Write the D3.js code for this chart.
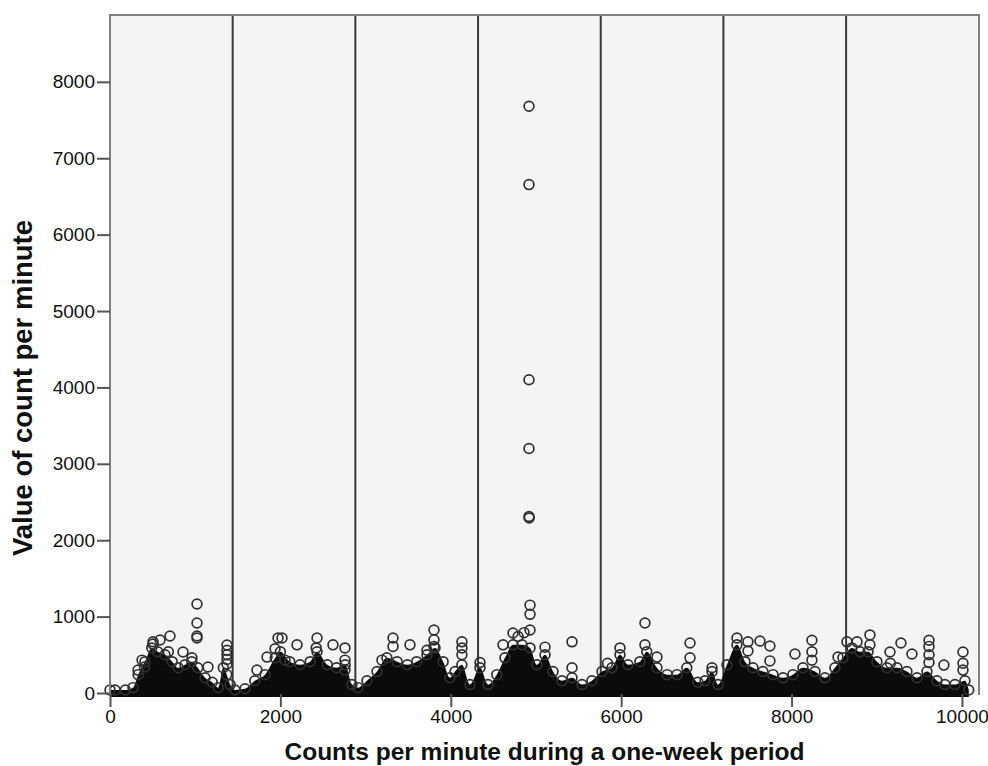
<!DOCTYPE html>
<html>
<head>
<meta charset="utf-8">
<script src="https://cdn.jsdelivr.net/npm/d3@7"></script>
<style>
  html, body { margin: 0; padding: 0; background: #fff; }
  svg { display: block; }
  text { font-family: "Liberation Sans", Arial, Helvetica, sans-serif; fill: #111; }
</style>
</head>
<body>
<svg id="chart" width="988" height="766"></svg>
<script>
// ---- data ----
const xTicks = [0, 2000, 4000, 6000, 8000, 10000];
const yTicks = [0, 1000, 2000, 3000, 4000, 5000, 6000, 7000, 8000];
const dayBoundaries = [1440, 2880, 4320, 5760, 7200, 8640];

// top of the dense (solid black) mass of points: minute, value
const coreMinutes = [0, 60, 180, 270, 330, 410, 490, 560, 645, 730, 800, 880, 960, 1030, 1115, 1200, 1270, 1330, 1370, 1410, 1467, 1585, 1700, 1820, 1940, 2000, 2110, 2230, 2350, 2430, 2550, 2660, 2760, 2840, 2910, 3016, 3134, 3250, 3370, 3490, 3600, 3720, 3815, 3910, 3990, 4050, 4130, 4225, 4343, 4437, 4540, 4636, 4730, 4836, 4930, 5012, 5106, 5200, 5305, 5423, 5540, 5657, 5775, 5892, 5986, 6080, 6220, 6300, 6420, 6540, 6655, 6770, 6900, 6984, 7066, 7136, 7242, 7359, 7453, 7547, 7664, 7782, 7900, 8016, 8134, 8275, 8392, 8509, 8603, 8709, 8803, 8897, 9002, 9120, 9237, 9354, 9472, 9589, 9707, 9800, 9918, 10035, 10080];
const coreValues = [40, 40, 40, 70, 240, 410, 590, 540, 500, 410, 330, 370, 410, 330, 200, 140, 70, 330, 240, 110, 40, 55, 160, 240, 460, 540, 410, 370, 410, 540, 370, 330, 370, 110, 70, 160, 280, 460, 410, 370, 410, 500, 590, 410, 200, 280, 370, 110, 330, 110, 240, 460, 630, 630, 590, 370, 500, 280, 160, 200, 110, 160, 280, 330, 500, 370, 410, 540, 330, 240, 240, 330, 140, 160, 280, 110, 370, 630, 410, 330, 280, 240, 200, 240, 330, 280, 200, 330, 460, 590, 540, 540, 410, 330, 330, 280, 200, 280, 160, 110, 110, 160, 40];

// individual points standing out above the mass: minute
const outlierMinutes = [1021, 1021, 1021, 1021, 704, 587, 505, 505, 857, 1150, 1373, 1373, 1373, 1373, 1373, 962, 376, 329, 405, 685, 1972, 1843, 1725, 1937,
  2019, 2195, 2430, 2420, 2617, 2758, 2758, 2758, 3192, 3322, 3322, 3521, 3720, 3803, 3803, 3803, 2054,
  4930, 4930, 4930, 4730, 4613, 5423, 4131, 4131, 4131, 4343, 5423, 5106, 5986, 5840, 4860, 4790,
  4918, 4918, 4918, 4918, 4918, 4920,
  6279, 6279, 6420, 6808, 6808, 7066, 7359, 7488, 7629, 7746, 8040, 7488, 7746,
  8239, 8239, 8239, 8545, 8650, 8768, 8920, 8920, 9155, 9284, 9413, 9613, 9613, 9613, 9613, 9788, 10012, 10012, 10012, 9160];
// and their values
const outlierValues = [1165, 916, 746, 720, 746, 694, 670, 640, 537, 340, 628, 560, 500, 440, 380, 460, 430, 300, 340, 540, 720, 470, 300, 580,
  720, 630, 720, 590, 630, 590, 430, 300, 430, 720, 610, 630, 560, 825, 695, 610, 430,
  1150, 1030, 825, 785, 630, 670, 670, 590, 500, 400, 330, 600, 590, 390, 790, 740,
  7680, 6655, 4100, 3200, 2310, 2290,
  916, 630, 470, 654, 460, 330, 720, 670, 680, 615, 510, 550, 420,
  690, 540, 430, 470, 670, 670, 760, 630, 537, 654, 510, 690, 610, 500, 400, 365, 537, 390, 300, 390];

// ---- drawing ----
const svg = d3.select("#chart");
const L = 110, R = 979, T = 15, B = 693;

const x = d3.scaleLinear().domain([0, 10200]).range([L, R]);
const y = d3.scaleLinear().domain([0, 8875]).range([B, T]);

// plot background
svg.append("rect").attr("x", L).attr("y", T).attr("width", R - L).attr("height", B + 2 - T)
  .attr("fill", "#f4f4f4");

// day boundary lines
svg.append("g").selectAll("line").data(dayBoundaries).join("line")
  .attr("x1", d => x(d)).attr("x2", d => x(d))
  .attr("y1", T).attr("y2", B + 2)
  .attr("stroke", "#3a3a3a").attr("stroke-width", 2);

// dense mass
const core = coreMinutes.map((m, i) => ({ m, v: coreValues[i] }));
const area = d3.area().x(d => x(d.m)).y0(y(0) + 4).y1(d => y(d.v)).curve(d3.curveMonotoneX);
svg.append("path").datum(core).attr("d", area).attr("fill", "#0b0b0b");

const circleStyle = sel => sel.attr("r", 4.9).attr("fill", "none")
  .attr("stroke", "#303030").attr("stroke-width", 1.7);

svg.append("g").selectAll("circle").data(core).join("circle")
  .attr("cx", d => x(d.m)).attr("cy", d => y(d.v)).call(circleStyle);

const outliers = outlierMinutes.map((m, i) => ({ m, v: outlierValues[i] }));
svg.append("g").selectAll("circle").data(outliers).join("circle")
  .attr("cx", d => x(d.m)).attr("cy", d => y(d.v)).call(circleStyle);

// frame
svg.append("path")
  .attr("d", `M${L},${B + 2}V${T}H${R}V${B + 2}`)
  .attr("fill", "none").attr("stroke", "#808080").attr("stroke-width", 2);

// axes
const yAxis = d3.axisLeft(y).tickValues(yTicks).tickSize(13).tickPadding(2).tickFormat(d3.format("d"));
const gy = svg.append("g").attr("transform", `translate(${L},0)`).call(yAxis);
gy.select(".domain").remove();
gy.selectAll(".tick line").attr("stroke", "#555").attr("stroke-width", 2);
gy.selectAll(".tick text").attr("font-size", 19).attr("fill", "#111")
  .attr("font-family", "'Liberation Sans', Arial, sans-serif");

const xAxis = d3.axisBottom(x).tickValues(xTicks).tickSize(13).tickPadding(3).tickFormat(d3.format("d"));
const gx = svg.append("g").attr("transform", `translate(0,${B + 1})`).call(xAxis);
gx.select(".domain").remove();
gx.selectAll(".tick line").attr("stroke", "#555").attr("stroke-width", 2);
gx.selectAll(".tick text").attr("font-size", 19).attr("fill", "#111")
  .attr("font-family", "'Liberation Sans', Arial, sans-serif");

// titles
svg.append("text").attr("x", (L + R) / 2).attr("y", 760)
  .attr("text-anchor", "middle").attr("font-size", 24.5).attr("font-weight", "bold")
  .text("Counts per minute during a one-week period");

svg.append("text").attr("transform", `translate(32,388) rotate(-90)`)
  .attr("text-anchor", "middle").attr("font-size", 27.5).attr("font-weight", "bold")
  .text("Value of count per minute");
</script>
</body>
</html>
